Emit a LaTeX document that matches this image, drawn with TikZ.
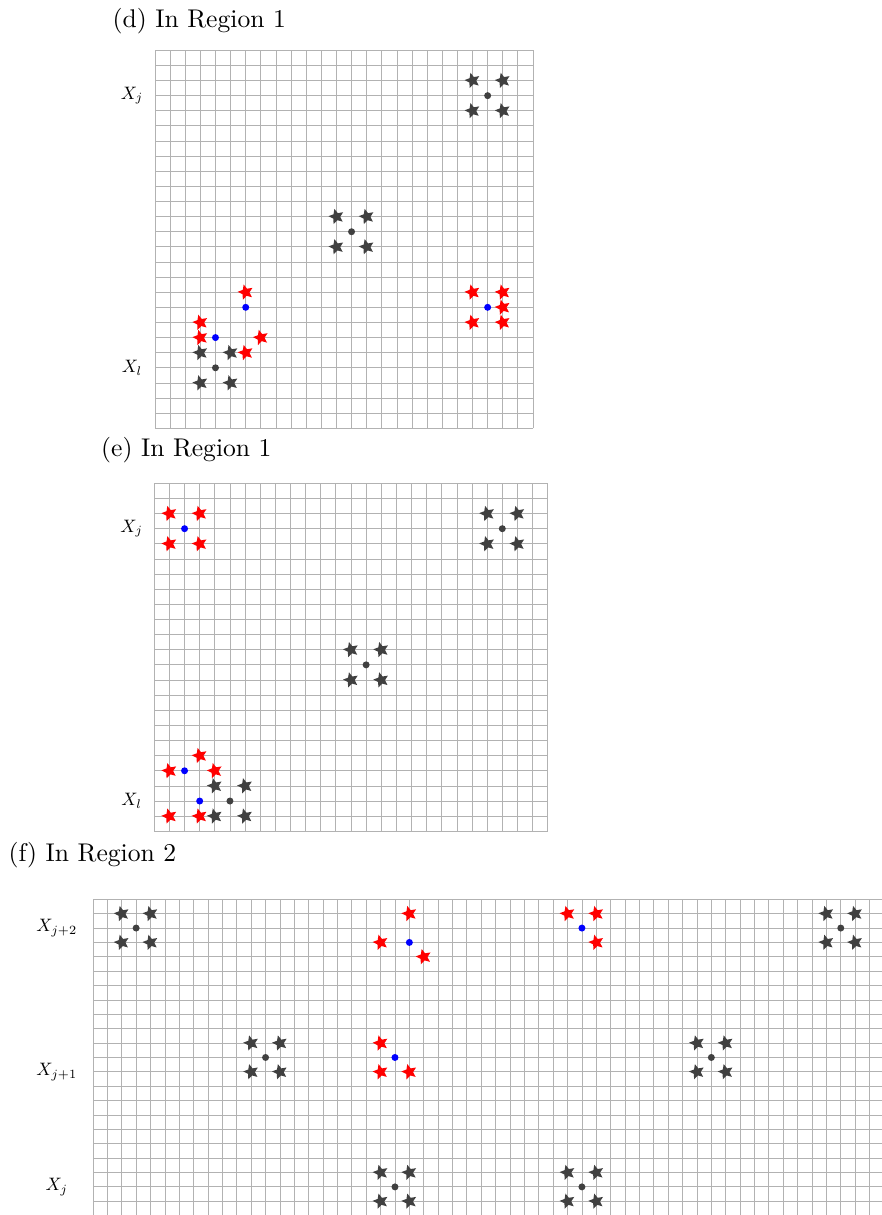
\documentclass[tikz,border=0pt]{standalone}
\usepackage{graphicx}
\usetikzlibrary{shapes.geometric}
\tikzset{
  gridline/.style={draw=gray!60, line width=0.8pt},
  starbase/.style={star, star points=5, star point ratio=2.15, minimum size=16pt, inner sep=0pt, shape border rotate=15, draw=none},
  darkstar/.style={starbase, fill=black!75},
  redstar/.style={starbase, fill=red},
  darkdot/.style={circle, fill=black!75, minimum size=7pt, inner sep=0pt, draw=none},
  bluedot/.style={circle, fill=blue, minimum size=7pt, inner sep=0pt, draw=none},
  rowlabel/.style={inner sep=0pt, anchor=center},
  paneltitle/.style={anchor=base west, inner sep=0pt},
}
\begin{document}
\begin{tikzpicture}[x=1pt,y=1pt]
\useasboundingbox (0,0) rectangle (882,1215);

% ---------- titles ----------
\node[paneltitle] (td) at (112.5,1187.7) {\scalebox{2.56}{(d) In Region 1}};
\node[paneltitle] (te) at (101,758.8) {\scalebox{2.56}{(e) In Region 1}};
\node[paneltitle] (tf) at (8.5,353.3) {\scalebox{2.56}{(f) In Region 2}};

% ---------- panel (d) ----------
\begin{scope}[shift={(155pt,786.7pt)}, x=15.12pt, y=15.12pt]
  \draw[gridline, step=1] (0,0) grid (25,25);
  \node[rowlabel] (d-xj) at (-1.52,22) {\scalebox{1.8}{$X_j$}};
  \node[rowlabel] (d-xl) at (-1.52,4) {\scalebox{1.8}{$X_l$}};
  \foreach \x/\y [count=\k] in {21/23,23/23,21/21,23/21,12/14,14/14,12/12,14/12,3/5,5/5,3/3,5/3}
    \node[darkstar] (d-ks\k) at (\x,\y) {};
  \foreach \x/\y [count=\k] in {22/22,13/13,4/4}
    \node[darkdot] (d-kd\k) at (\x,\y) {};
  \foreach \x/\y [count=\k] in {21/9,23/9,23/8,21/7,23/7,3/7,3/6,6/5,7/6,6/9}
    \node[redstar] (d-rs\k) at (\x,\y) {};
  \foreach \x/\y [count=\k] in {22/8,4/6,6/8}
    \node[bluedot] (d-bd\k) at (\x,\y) {};
\end{scope}

% ---------- panel (e) ----------
\begin{scope}[shift={(154.3pt,383.7pt)}, x=15.13pt, y=15.13pt]
  \draw[gridline, step=1] (0,0) grid (26,23);
  \node[rowlabel] (e-xj) at (-1.5,20) {\scalebox{1.8}{$X_j$}};
  \node[rowlabel] (e-xl) at (-1.5,2) {\scalebox{1.8}{$X_l$}};
  \foreach \x/\y [count=\k] in {22/21,24/21,22/19,24/19,13/12,15/12,13/10,15/10,4/3,6/3,4/1,6/1}
    \node[darkstar] (e-ks\k) at (\x,\y) {};
  \foreach \x/\y [count=\k] in {23/20,14/11,5/2}
    \node[darkdot] (e-kd\k) at (\x,\y) {};
  \foreach \x/\y [count=\k] in {1/21,3/21,1/19,3/19,3/5,1/4,4/4,1/1,3/1}
    \node[redstar] (e-rs\k) at (\x,\y) {};
  \foreach \x/\y [count=\k] in {2/20,2/4,3/2}
    \node[bluedot] (e-bd\k) at (\x,\y) {};
\end{scope}

% ---------- panel (f) ----------
\begin{scope}
  \clip (0,0) rectangle (882,1215);
  \begin{scope}[shift={(93pt,315.7pt)}, x=14.38pt, y=14.38pt]
    \draw[gridline, step=1] (0,-23) grid (56,0);
    \node[rowlabel] (f-xj2) at (-2.52,-2) {\scalebox{1.8}{$X_{j+2}$}};
    \node[rowlabel] (f-xj1) at (-2.52,-12) {\scalebox{1.8}{$X_{j+1}$}};
    \node[rowlabel] (f-xj) at (-2.52,-20) {\scalebox{1.8}{$X_j$}};
    \foreach \x/\y [count=\k] in {2/1,4/1,2/3,4/3, 51/1,53/1,51/3,53/3, 11/10,13/10,11/12,13/12, 42/10,44/10,42/12,44/12, 20/19,22/19,20/21,22/21, 33/19,35/19,33/21,35/21}
      \node[darkstar] (f-ks\k) at (\x,-\y) {};
    \foreach \x/\y [count=\k] in {3/2,52/2,12/11,43/11,21/20,34/20}
      \node[darkdot] (f-kd\k) at (\x,-\y) {};
    \foreach \x/\y [count=\k] in {22/1,20/3,23/4, 33/1,35/1,35/3, 20/10,20/12,22/12}
      \node[redstar] (f-rs\k) at (\x,-\y) {};
    \foreach \x/\y [count=\k] in {22/3,34/2,21/11}
      \node[bluedot] (f-bd\k) at (\x,-\y) {};
  \end{scope}
\end{scope}
\end{tikzpicture}
\end{document}
